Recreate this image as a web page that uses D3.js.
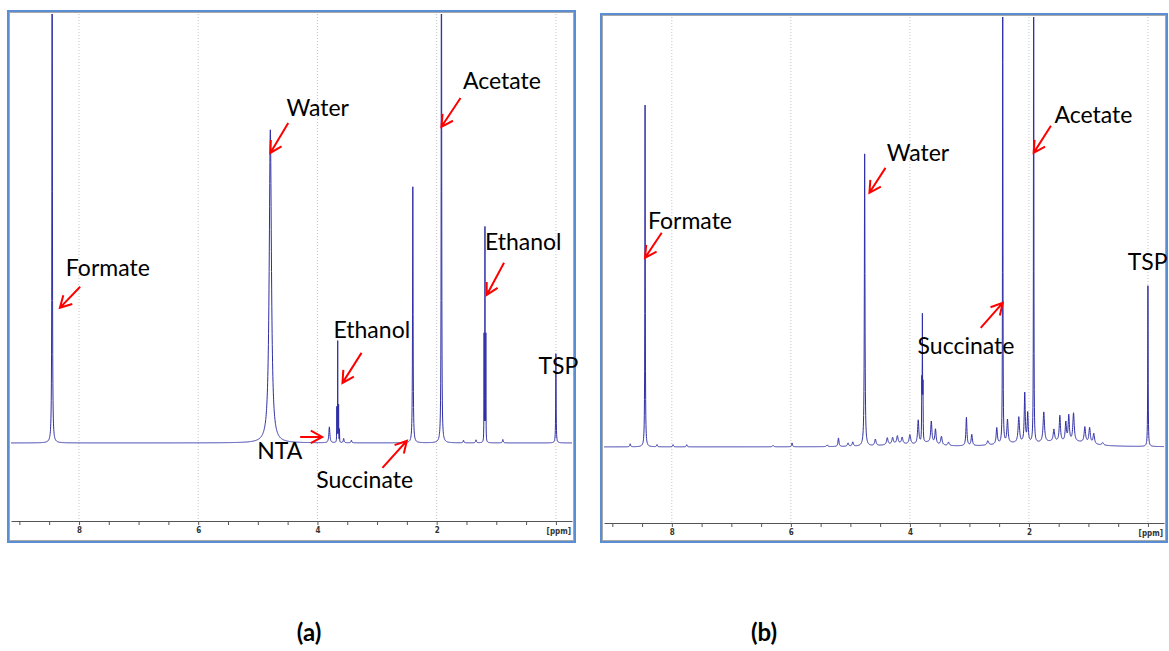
<!DOCTYPE html>
<html>
<head>
<meta charset="utf-8">
<script src="https://cdn.jsdelivr.net/npm/d3@7/dist/d3.min.js"></script>
<style>
  body { margin: 0; background: #fff; }
  .tick text { font-family: "DejaVu Sans Condensed", "DejaVu Sans", sans-serif; font-weight: bold; font-size: 8px; fill: #333; }
  .note { font-family: Lato, "Open Sans", sans-serif; font-size: 23px; fill: #000; }
</style>
</head>
<body>
<div id="chart"></div>
<script>
// Panel (a) peaks: shift (ppm), height (% of plot height above baseline), half width (ppm)
var peakPpmA    = [8.45, 4.79, 3.80, 3.675, 3.66, 3.645, 3.63, 3.56, 3.43, 2.40, 1.92, 1.55, 1.34, 1.205, 1.19, 1.175, 0.89, 0.00];
var peakHeightA = [150,  73,   3.7,  8,     23.5, 8.5,   3,    1.0,  0.6,  59.7, 150,  0.6,  0.7,  24.7,  49.6, 24.7,  0.8,  20.8];
var peakWidthA  = [0.004, 0.022, 0.01, 0.002, 0.002, 0.002, 0.002, 0.008, 0.008, 0.005, 0.004, 0.008, 0.008, 0.002, 0.002, 0.002, 0.008, 0.004];

// Panel (b) peaks
var peakPpmB = [8.70, 8.45, 8.25, 7.98, 7.75, 6.30, 5.98, 5.39, 5.20, 5.04, 4.96, 4.76, 4.58, 4.38, 4.29, 4.21, 4.13, 4.00,
                3.86, 3.80, 3.79, 3.78, 3.64, 3.57, 3.47, 3.35, 3.05, 2.96, 2.69, 2.54, 2.44, 2.36, 2.17, 2.07, 2.02,
                1.92, 1.75, 1.58, 1.48, 1.38, 1.33, 1.25, 1.06, 0.98, 0.91, 0.76, 0.00];
var peakHeightB = [0.7, 79.5, 0.5, 0.5, 0.5, 0.3, 0.9, 0.4, 2.0, 0.8, 1.0, 68, 1.5, 1.6, 1.5, 1.8, 1.5, 2.2,
                   5.5, 13, 28, 12, 5.0, 3.4, 2.0, 0.8, 6.6, 2.6, 1.0, 3.8, 150, 5.4, 6.0, 11.5, 6.8,
                   150, 7.0, 2.8, 6.0, 4.4, 6.0, 6.6, 3.6, 3.6, 2.4, 0.6, 37.4];
var peakWidthB = [0.008, 0.004, 0.008, 0.008, 0.008, 0.012, 0.008, 0.012, 0.01, 0.012, 0.012, 0.006, 0.014, 0.014, 0.014, 0.014, 0.014, 0.016,
                  0.012, 0.003, 0.003, 0.003, 0.012, 0.012, 0.014, 0.014, 0.01, 0.012, 0.016, 0.012, 0.003, 0.012, 0.014, 0.01, 0.01,
                  0.003, 0.014, 0.014, 0.012, 0.012, 0.012, 0.014, 0.014, 0.014, 0.014, 0.016, 0.004];
// broad humps under the (b) baseline
var humpPpmB    = [4.2, 3.7, 2.3, 1.6, 1.15];
var humpHeightB = [0.6, 0.8, 0.6, 0.9, 0.7];
var humpWidthB  = [0.25, 0.15, 0.3, 0.35, 0.25];

// Axis ticks (ppm) and labelled ticks
var tickPpm = d3.range(0, 9.01, 0.5);
var tickLabels = [8, 6, 4, 2];
var gridPpm = [0, 2, 4, 6, 8];

// Annotations: text anchor (ppm, value) and arrow tail -> head (ppm, value)
var noteTextA = ["Formate", "Water", "Acetate", "Ethanol", "Ethanol", "NTA", "Succinate", "TSP"];
var notePpmA  = [8.22, 4.52, 1.56, 1.19, 3.73, 5.01, 4.02, 0.29];
var noteValA  = [38.9, 76.2, 82.5, 45.0, 24.5, -3.7, -10.5, 16.1];
var arrowA = [[7.98, 36.4, 8.32, 31.5], [4.49, 74.6, 4.79, 67.6], [1.60, 80.4, 1.92, 73.7], [0.87, 42.0, 1.16, 34.5],
              [3.26, 21.0, 3.58, 14.0], [4.29, 1.4, 3.92, 1.4], [2.91, -5.8, 2.50, 0.5], null];

var noteTextB = ["Formate", "Water", "Acetate", "Succinate", "TSP"];
var notePpmB  = [8.40, 4.39, 1.57, 3.87, 0.34];
var noteValB  = [50.7, 66.5, 75.3, 21.6, 41.2];
var arrowB = [[8.17, 49.8, 8.45, 44.0], [4.41, 64.9, 4.68, 59.1], [1.63, 74.7, 1.92, 68.4], [2.81, 27.7, 2.44, 33.5], null];

// Setup the figure
// ==============================
var svgWidth = 1169;
var svgHeight = 651;

var svg = d3.select("#chart")
  .append("svg")
  .attr("width", svgWidth)
  .attr("height", svgHeight);

// Lorentzian sum sampled on a grid plus every peak centre
function spectrum(ppm, height, width) {
  var xs = d3.range(-0.4, 9.3, 0.0025).concat(ppm);
  xs.sort(d3.ascending);
  return xs.map(function(p) {
    var v = 0;
    for (var i = 0; i < ppm.length; i++) {
      var d = p - ppm[i];
      v += height[i] * width[i] * width[i] / (d * d + width[i] * width[i]);
    }
    return { ppm: p, value: Math.min(v, 200) };
  });
}

function drawPanel(cfg, data, notes) {
  var g = svg.append("g");

  var x = d3.scaleLinear().domain([9.14, -0.27]).range([cfg.left, cfg.right]);
  var y = d3.scaleLinear().domain([cfg.yMin, 100]).range([cfg.axisY, cfg.top]);

  // frame
  g.append("rect")
    .attr("x", cfg.left - 1.5).attr("y", cfg.top - 1.5)
    .attr("width", cfg.right - cfg.left + 3).attr("height", cfg.bottom - cfg.top + 3)
    .attr("fill", "#fff").attr("stroke", "#a8a8a8").attr("stroke-width", 1);

  // dotted grid
  g.selectAll(".grid")
    .data(gridPpm)
    .enter()
    .append("line")
    .attr("x1", d => x(d)).attr("x2", d => x(d))
    .attr("y1", cfg.top).attr("y2", cfg.axisY)
    .attr("stroke", "#c4c4c4")
    .attr("stroke-dasharray", "1,2");

  // axis
  var axis = d3.axisBottom(x)
    .tickValues(tickPpm)
    .tickSizeInner(4)
    .tickSizeOuter(0)
    .tickPadding(2)
    .tickFormat(d => tickLabels.indexOf(d) >= 0 ? d : "");

  var ax = g.append("g")
    .attr("transform", `translate(0, ${cfg.axisY})`)
    .call(axis);
  ax.select(".domain").attr("stroke", "#555");
  ax.selectAll(".tick line").attr("stroke", "#555");

  g.append("text")
    .attr("x", cfg.right - 1)
    .attr("y", cfg.axisY + 13)
    .attr("text-anchor", "end")
    .style("font-family", "'DejaVu Sans Condensed', sans-serif")
    .style("font-weight", "bold")
    .style("font-size", "8px")
    .style("fill", "#333")
    .text("[ppm]");

  // spectrum, clipped to the plot area
  g.append("clipPath")
    .attr("id", cfg.id)
    .append("rect")
    .attr("x", cfg.left).attr("y", cfg.top)
    .attr("width", cfg.right - cfg.left).attr("height", cfg.axisY - cfg.top);

  var line = d3.line()
    .x(d => x(d.ppm))
    .y(d => y(d.value));

  g.append("path")
    .datum(data)
    .attr("clip-path", `url(#${cfg.id})`)
    .attr("d", line)
    .attr("fill", "none")
    .attr("stroke", "#2f2fa6")
    .attr("stroke-width", 1);

  // outer blue border
  g.append("rect")
    .attr("x", cfg.left - 3).attr("y", cfg.top - 3)
    .attr("width", cfg.right - cfg.left + 6).attr("height", cfg.bottom - cfg.top + 6)
    .attr("fill", "none").attr("stroke", "#5b8dd3").attr("stroke-width", 2);

  // labels and red arrows
  notes.text.forEach(function(t, i) {
    g.append("text")
      .attr("class", "note")
      .attr("x", x(notes.ppm[i]))
      .attr("y", y(notes.val[i]))
      .text(t);

    var a = notes.arrow[i];
    if (!a) return;
    var x1 = x(a[0]), y1 = y(a[1]), x2 = x(a[2]), y2 = y(a[3]);
    var ang = Math.atan2(y2 - y1, x2 - x1);
    var len = 13;
    var head = [ang + Math.PI - 0.5, ang + Math.PI + 0.5].map(function(b) {
      return [x2 + len * Math.cos(b), y2 + len * Math.sin(b)];
    });
    g.append("path")
      .attr("d", `M${x1},${y1}L${x2},${y2}M${head[0][0]},${head[0][1]}L${x2},${y2}L${head[1][0]},${head[1][1]}`)
      .attr("fill", "none")
      .attr("stroke", "#ff0000")
      .attr("stroke-width", 2);
  });
}

// Build the two panels
// ==============================
var specA = spectrum(peakPpmA, peakHeightA, peakWidthA);
var specB = spectrum(peakPpmB.concat(humpPpmB), peakHeightB.concat(humpHeightB), peakWidthB.concat(humpWidthB));

drawPanel({ id: "clipA", left: 11, right: 572, top: 14, axisY: 521, bottom: 539, yMin: -18.2 }, specA,
  { text: noteTextA, ppm: notePpmA, val: noteValA, arrow: arrowA });

drawPanel({ id: "clipB", left: 604, right: 1164, top: 17, axisY: 523, bottom: 539, yMin: -17.7 }, specB,
  { text: noteTextB, ppm: notePpmB, val: noteValB, arrow: arrowB });

// Panel captions
svg.selectAll(".caption")
  .data(["(a)", "(b)"])
  .enter()
  .append("text")
  .attr("x", (d, i) => i === 0 ? 309 : 764)
  .attr("y", 641)
  .attr("text-anchor", "middle")
  .style("font-family", "Lato, sans-serif")
  .style("font-weight", "bold")
  .style("font-size", "24px")
  .text(d => d);
</script>
</body>
</html>
